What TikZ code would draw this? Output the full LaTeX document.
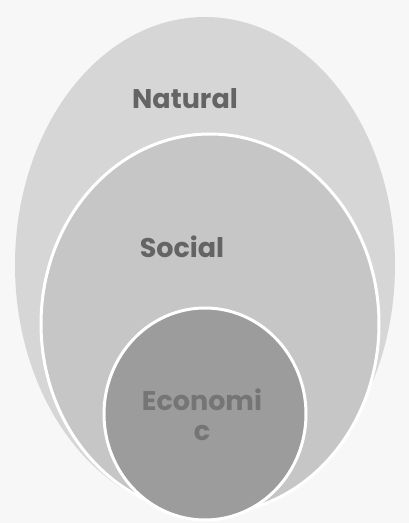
\documentclass[tikz,border=0pt]{standalone}
\usepackage{fontspec}
\setmainfont{Poppins}
\usepackage{tikz}
\usetikzlibrary{shapes.geometric, positioning}
\definecolor{natgray}{RGB}{214,214,214}
\definecolor{socgray}{RGB}{198,198,198}
\definecolor{ecogray}{RGB}{156,156,156}
\definecolor{labelgray}{RGB}{100,100,100}

\begin{document}
\begin{tikzpicture}[
    x=1pt, y=1pt,
    sphere/.style={ellipse, inner sep=0pt, outer sep=0pt},
    ring/.style={sphere, draw=white, line width=3pt},
    label/.style={text=labelgray, font=\bfseries\fontsize{27}{30}\selectfont, align=center}
]
    \useasboundingbox[fill=white!97!black] (0,0) rectangle (409,523);

    % Spheres
    \node (natural) [sphere, fill=natgray, minimum width=380, minimum height=496] at (205,258) {};
    \node (social) [ring, fill=socgray, minimum width=338, minimum height=380] at (210,199) {};
    \node (economic) [ring, fill=ecogray, minimum width=202, minimum height=212] at (205,109) {};

    % Labels
    \node (natlabel) [label] at (185,424) {Natural};
    \node (soclabel) [label] at (182,276) {Social};
    \node (ecolabel) [label, text=labelgray!70!ecogray] at (202,108) {Economi\\c};
\end{tikzpicture}
\end{document}
